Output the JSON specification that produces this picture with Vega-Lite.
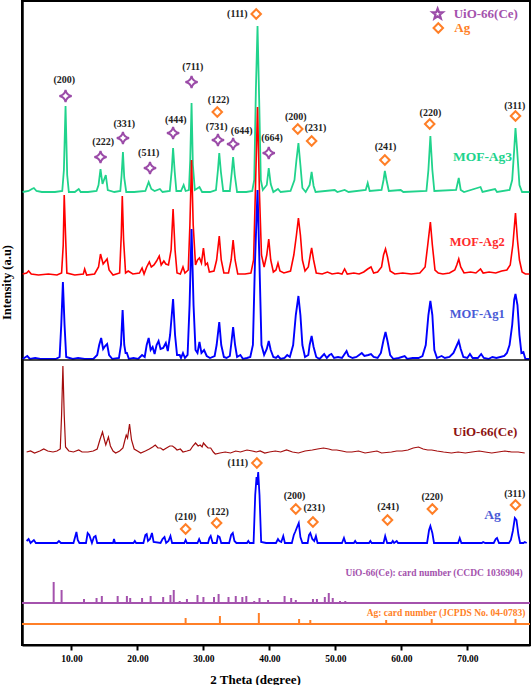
{
"$schema":"https://vega.github.io/schema/vega-lite/v6.json",
"width":508,"height":644,
"autosize":{"type":"none"},
"padding":{"left":22,"top":1,"right":2,"bottom":40},
"background":"white",
"config":{"view":{"stroke":"black","strokeWidth":2},"font":"Liberation Serif"},
"datasets":{
"ag3":[{"theta":2.6,"I":453},{"theta":3.5,"I":454},{"theta":4.0,"I":456},{"theta":4.3,"I":457},{"theta":4.7,"I":454},{"theta":5.5,"I":453},{"theta":6.5,"I":453},{"theta":7.5,"I":453},{"theta":8.6,"I":454},{"theta":8.85,"I":475},{"theta":9.1,"I":539},{"theta":9.35,"I":470},{"theta":9.6,"I":453},{"theta":10.5,"I":453},{"theta":11.1,"I":456},{"theta":11.4,"I":453},{"theta":12.5,"I":453},{"theta":13.8,"I":454},{"theta":14.1,"I":460},{"theta":14.4,"I":476},{"theta":14.7,"I":461},{"theta":15.2,"I":470},{"theta":15.5,"I":455},{"theta":16.5,"I":453},{"theta":17.4,"I":454},{"theta":17.6,"I":470},{"theta":17.8,"I":493},{"theta":18.0,"I":467},{"theta":18.3,"I":453},{"theta":19.5,"I":453},{"theta":21.2,"I":454},{"theta":21.7,"I":463},{"theta":22.1,"I":456},{"theta":22.6,"I":454},{"theta":23.4,"I":456},{"theta":23.8,"I":453},{"theta":24.9,"I":454},{"theta":25.2,"I":475},{"theta":25.4,"I":497},{"theta":25.65,"I":473},{"theta":25.9,"I":454},{"theta":26.6,"I":454},{"theta":27.0,"I":460},{"theta":27.3,"I":454},{"theta":27.8,"I":455},{"theta":28.0,"I":485},{"theta":28.2,"I":542},{"theta":28.4,"I":480},{"theta":28.7,"I":455},{"theta":29.4,"I":458},{"theta":29.8,"I":453},{"theta":31.0,"I":453},{"theta":31.9,"I":455},{"theta":32.2,"I":475},{"theta":32.4,"I":492},{"theta":32.65,"I":473},{"theta":33.0,"I":454},{"theta":34.0,"I":454},{"theta":34.3,"I":473},{"theta":34.5,"I":488},{"theta":34.75,"I":470},{"theta":35.1,"I":453},{"theta":36.5,"I":453},{"theta":37.4,"I":454},{"theta":37.7,"I":465},{"theta":37.95,"I":555},{"theta":38.2,"I":619},{"theta":38.45,"I":545},{"theta":38.7,"I":465},{"theta":39.0,"I":455},{"theta":39.6,"I":460},{"theta":39.9,"I":477},{"theta":40.2,"I":461},{"theta":40.6,"I":453},{"theta":41.3,"I":456},{"theta":41.7,"I":453},{"theta":43.2,"I":454},{"theta":43.8,"I":465},{"theta":44.1,"I":485},{"theta":44.4,"I":502},{"theta":44.7,"I":480},{"theta":45.0,"I":457},{"theta":45.5,"I":453},{"theta":46.1,"I":460},{"theta":46.4,"I":473},{"theta":46.7,"I":459},{"theta":47.0,"I":453},{"theta":49.9,"I":455},{"theta":50.3,"I":453},{"theta":51.4,"I":455},{"theta":52.0,"I":453},{"theta":54.6,"I":455},{"theta":54.9,"I":462},{"theta":55.2,"I":454},{"theta":57.0,"I":455},{"theta":57.3,"I":465},{"theta":57.5,"I":474},{"theta":57.75,"I":465},{"theta":58.1,"I":454},{"theta":59.9,"I":455},{"theta":60.3,"I":453},{"theta":63.8,"I":454},{"theta":64.1,"I":475},{"theta":64.4,"I":509},{"theta":64.7,"I":475},{"theta":65.0,"I":454},{"theta":68.3,"I":455},{"theta":68.7,"I":467},{"theta":69.0,"I":455},{"theta":69.5,"I":453},{"theta":72.0,"I":458},{"theta":72.3,"I":453},{"theta":74.2,"I":456},{"theta":74.5,"I":453},{"theta":76.4,"I":455},{"theta":76.8,"I":465},{"theta":77.1,"I":495},{"theta":77.3,"I":517},{"theta":77.55,"I":495},{"theta":77.9,"I":460},{"theta":78.3,"I":453},{"theta":79.4,"I":453}],
"ag2":[{"theta":2.6,"I":371},{"theta":3.2,"I":372},{"theta":3.5,"I":374},{"theta":3.9,"I":371},{"theta":5.0,"I":370},{"theta":6.5,"I":371},{"theta":7.8,"I":370},{"theta":8.5,"I":372},{"theta":8.75,"I":400},{"theta":8.9,"I":450},{"theta":9.1,"I":410},{"theta":9.3,"I":372},{"theta":10.5,"I":370},{"theta":11.8,"I":371},{"theta":12.0,"I":376},{"theta":12.3,"I":370},{"theta":13.5,"I":371},{"theta":14.1,"I":378},{"theta":14.4,"I":391},{"theta":14.8,"I":381},{"theta":15.4,"I":386},{"theta":15.7,"I":375},{"theta":16.3,"I":370},{"theta":17.3,"I":372},{"theta":17.55,"I":410},{"theta":17.7,"I":449},{"theta":17.9,"I":405},{"theta":18.2,"I":372},{"theta":18.6,"I":374},{"theta":19.3,"I":371},{"theta":20.3,"I":372},{"theta":20.7,"I":377},{"theta":21.0,"I":371},{"theta":21.4,"I":378},{"theta":21.8,"I":383},{"theta":22.1,"I":378},{"theta":22.5,"I":380},{"theta":22.9,"I":384},{"theta":23.3,"I":389},{"theta":23.6,"I":380},{"theta":24.0,"I":384},{"theta":24.3,"I":381},{"theta":24.7,"I":380},{"theta":25.1,"I":395},{"theta":25.4,"I":436},{"theta":25.7,"I":395},{"theta":26.0,"I":372},{"theta":26.5,"I":371},{"theta":26.9,"I":378},{"theta":27.2,"I":372},{"theta":27.7,"I":375},{"theta":27.95,"I":420},{"theta":28.2,"I":485},{"theta":28.45,"I":420},{"theta":28.8,"I":380},{"theta":29.1,"I":385},{"theta":29.4,"I":387},{"theta":29.7,"I":382},{"theta":30.0,"I":397},{"theta":30.3,"I":380},{"theta":30.6,"I":382},{"theta":30.9,"I":373},{"theta":31.6,"I":374},{"theta":32.0,"I":385},{"theta":32.4,"I":409},{"theta":32.7,"I":385},{"theta":33.1,"I":372},{"theta":33.8,"I":372},{"theta":34.2,"I":385},{"theta":34.5,"I":405},{"theta":34.8,"I":385},{"theta":35.2,"I":371},{"theta":36.3,"I":371},{"theta":37.2,"I":372},{"theta":37.6,"I":385},{"theta":37.9,"I":460},{"theta":38.2,"I":538},{"theta":38.5,"I":450},{"theta":38.8,"I":390},{"theta":39.2,"I":378},{"theta":39.6,"I":390},{"theta":39.9,"I":406},{"theta":40.2,"I":385},{"theta":40.6,"I":373},{"theta":41.0,"I":375},{"theta":41.3,"I":382},{"theta":41.6,"I":374},{"theta":42.2,"I":372},{"theta":43.2,"I":374},{"theta":43.7,"I":390},{"theta":44.1,"I":410},{"theta":44.4,"I":427},{"theta":44.7,"I":410},{"theta":45.0,"I":385},{"theta":45.4,"I":374},{"theta":45.9,"I":378},{"theta":46.2,"I":390},{"theta":46.4,"I":397},{"theta":46.7,"I":385},{"theta":47.1,"I":372},{"theta":48.0,"I":371},{"theta":48.8,"I":373},{"theta":49.5,"I":371},{"theta":50.4,"I":372},{"theta":51.0,"I":371},{"theta":51.4,"I":376},{"theta":51.8,"I":371},{"theta":52.8,"I":372},{"theta":53.6,"I":371},{"theta":54.3,"I":373},{"theta":54.9,"I":376},{"theta":55.4,"I":378},{"theta":55.8,"I":372},{"theta":56.4,"I":373},{"theta":57.0,"I":378},{"theta":57.3,"I":390},{"theta":57.6,"I":396},{"theta":57.9,"I":388},{"theta":58.3,"I":374},{"theta":59.0,"I":371},{"theta":60.2,"I":372},{"theta":61.5,"I":371},{"theta":62.8,"I":372},{"theta":63.6,"I":378},{"theta":64.0,"I":400},{"theta":64.4,"I":423},{"theta":64.7,"I":400},{"theta":65.1,"I":375},{"theta":65.6,"I":372},{"theta":66.3,"I":371},{"theta":67.3,"I":372},{"theta":68.1,"I":375},{"theta":68.4,"I":380},{"theta":68.7,"I":386},{"theta":69.0,"I":378},{"theta":69.5,"I":372},{"theta":70.5,"I":373},{"theta":71.3,"I":372},{"theta":72.0,"I":376},{"theta":72.4,"I":372},{"theta":73.3,"I":373},{"theta":74.3,"I":372},{"theta":75.2,"I":374},{"theta":76.0,"I":375},{"theta":76.5,"I":380},{"theta":76.9,"I":400},{"theta":77.3,"I":432},{"theta":77.6,"I":405},{"theta":77.9,"I":385},{"theta":78.3,"I":373},{"theta":78.8,"I":371},{"theta":79.4,"I":371}],
"ag1":[{"theta":2.6,"I":286},{"theta":3.3,"I":289},{"theta":3.7,"I":286},{"theta":4.5,"I":287},{"theta":5.3,"I":286},{"theta":6.5,"I":286},{"theta":7.6,"I":286},{"theta":8.2,"I":288},{"theta":8.45,"I":320},{"theta":8.7,"I":363},{"theta":8.95,"I":320},{"theta":9.2,"I":288},{"theta":10.2,"I":286},{"theta":11.0,"I":287},{"theta":12.0,"I":286},{"theta":13.3,"I":286},{"theta":13.9,"I":290},{"theta":14.2,"I":300},{"theta":14.5,"I":307},{"theta":14.8,"I":296},{"theta":15.1,"I":299},{"theta":15.4,"I":301},{"theta":15.7,"I":290},{"theta":16.2,"I":286},{"theta":17.2,"I":287},{"theta":17.5,"I":300},{"theta":17.75,"I":335},{"theta":18.0,"I":300},{"theta":18.2,"I":292},{"theta":18.4,"I":292},{"theta":18.7,"I":286},{"theta":19.4,"I":287},{"theta":20.1,"I":286},{"theta":20.7,"I":290},{"theta":21.1,"I":288},{"theta":21.4,"I":300},{"theta":21.7,"I":307},{"theta":22.0,"I":295},{"theta":22.3,"I":298},{"theta":22.6,"I":291},{"theta":22.9,"I":300},{"theta":23.2,"I":304},{"theta":23.5,"I":296},{"theta":23.9,"I":297},{"theta":24.3,"I":302},{"theta":24.6,"I":294},{"theta":24.95,"I":310},{"theta":25.4,"I":346},{"theta":25.7,"I":310},{"theta":26.0,"I":290},{"theta":26.4,"I":290},{"theta":26.6,"I":287},{"theta":26.9,"I":292},{"theta":27.2,"I":287},{"theta":27.6,"I":290},{"theta":27.9,"I":340},{"theta":28.2,"I":416},{"theta":28.5,"I":340},{"theta":28.8,"I":295},{"theta":29.1,"I":292},{"theta":29.4,"I":303},{"theta":29.7,"I":292},{"theta":30.1,"I":295},{"theta":30.5,"I":289},{"theta":31.0,"I":287},{"theta":31.7,"I":289},{"theta":32.0,"I":300},{"theta":32.4,"I":323},{"theta":32.7,"I":300},{"theta":33.1,"I":288},{"theta":33.5,"I":287},{"theta":34.0,"I":289},{"theta":34.2,"I":300},{"theta":34.5,"I":318},{"theta":34.8,"I":300},{"theta":35.1,"I":288},{"theta":35.6,"I":290},{"theta":36.0,"I":286},{"theta":36.6,"I":287},{"theta":37.1,"I":288},{"theta":37.5,"I":300},{"theta":37.8,"I":380},{"theta":38.2,"I":455},{"theta":38.5,"I":380},{"theta":38.8,"I":300},{"theta":39.2,"I":290},{"theta":39.6,"I":296},{"theta":39.9,"I":304},{"theta":40.2,"I":295},{"theta":40.6,"I":288},{"theta":41.0,"I":287},{"theta":41.3,"I":289},{"theta":41.7,"I":286},{"theta":42.3,"I":287},{"theta":42.7,"I":290},{"theta":43.1,"I":288},{"theta":43.6,"I":300},{"theta":44.0,"I":330},{"theta":44.4,"I":349},{"theta":44.7,"I":330},{"theta":45.0,"I":300},{"theta":45.4,"I":288},{"theta":45.9,"I":290},{"theta":46.1,"I":300},{"theta":46.4,"I":309},{"theta":46.7,"I":298},{"theta":47.1,"I":288},{"theta":47.6,"I":286},{"theta":48.3,"I":291},{"theta":48.7,"I":287},{"theta":49.1,"I":290},{"theta":49.4,"I":291},{"theta":49.8,"I":287},{"theta":50.4,"I":288},{"theta":51.0,"I":287},{"theta":51.3,"I":290},{"theta":51.7,"I":294},{"theta":52.0,"I":289},{"theta":52.6,"I":287},{"theta":53.2,"I":288},{"theta":53.6,"I":290},{"theta":54.0,"I":292},{"theta":54.4,"I":289},{"theta":55.0,"I":290},{"theta":55.4,"I":291},{"theta":55.8,"I":288},{"theta":56.4,"I":287},{"theta":56.9,"I":292},{"theta":57.3,"I":305},{"theta":57.6,"I":313},{"theta":57.9,"I":304},{"theta":58.3,"I":290},{"theta":58.8,"I":286},{"theta":59.6,"I":287},{"theta":60.5,"I":289},{"theta":60.9,"I":286},{"theta":61.7,"I":287},{"theta":62.6,"I":287},{"theta":63.2,"I":289},{"theta":63.7,"I":300},{"theta":64.1,"I":330},{"theta":64.4,"I":344},{"theta":64.7,"I":330},{"theta":65.0,"I":295},{"theta":65.4,"I":287},{"theta":66.1,"I":289},{"theta":66.6,"I":287},{"theta":67.3,"I":288},{"theta":67.9,"I":292},{"theta":68.3,"I":298},{"theta":68.7,"I":304},{"theta":69.0,"I":296},{"theta":69.4,"I":288},{"theta":70.0,"I":287},{"theta":70.4,"I":291},{"theta":70.8,"I":287},{"theta":71.6,"I":287},{"theta":72.1,"I":291},{"theta":72.5,"I":287},{"theta":73.2,"I":286},{"theta":73.8,"I":288},{"theta":74.4,"I":287},{"theta":75.0,"I":288},{"theta":75.6,"I":289},{"theta":76.0,"I":292},{"theta":76.4,"I":300},{"theta":76.8,"I":320},{"theta":77.1,"I":345},{"theta":77.3,"I":351},{"theta":77.6,"I":340},{"theta":77.9,"I":310},{"theta":78.2,"I":292},{"theta":78.5,"I":293},{"theta":78.8,"I":286},{"theta":79.4,"I":286}],
"uio":[{"theta":3.2,"I":193},{"theta":3.8,"I":194},{"theta":4.4,"I":192},{"theta":5.2,"I":194},{"theta":5.8,"I":196},{"theta":6.4,"I":194},{"theta":7.2,"I":193},{"theta":7.8,"I":194},{"theta":8.3,"I":196},{"theta":8.5,"I":230},{"theta":8.7,"I":279},{"theta":8.9,"I":230},{"theta":9.1,"I":198},{"theta":9.6,"I":194},{"theta":10.3,"I":193},{"theta":11.1,"I":195},{"theta":11.6,"I":193},{"theta":12.5,"I":193},{"theta":13.3,"I":194},{"theta":13.9,"I":196},{"theta":14.3,"I":205},{"theta":14.7,"I":213},{"theta":15.0,"I":205},{"theta":15.2,"I":200},{"theta":15.6,"I":208},{"theta":15.9,"I":199},{"theta":16.3,"I":194},{"theta":16.7,"I":192},{"theta":17.3,"I":194},{"theta":17.8,"I":197},{"theta":18.1,"I":205},{"theta":18.3,"I":210},{"theta":18.5,"I":207},{"theta":18.8,"I":221},{"theta":19.1,"I":205},{"theta":19.5,"I":196},{"theta":20.0,"I":194},{"theta":20.5,"I":192},{"theta":21.2,"I":194},{"theta":21.8,"I":196},{"theta":22.3,"I":198},{"theta":22.7,"I":200},{"theta":23.1,"I":197},{"theta":23.5,"I":197},{"theta":23.9,"I":195},{"theta":24.4,"I":197},{"theta":24.9,"I":199},{"theta":25.3,"I":199},{"theta":25.7,"I":197},{"theta":26.0,"I":195},{"theta":26.5,"I":196},{"theta":26.9,"I":193},{"theta":27.5,"I":194},{"theta":28.0,"I":195},{"theta":28.4,"I":199},{"theta":28.8,"I":202},{"theta":29.2,"I":199},{"theta":29.5,"I":200},{"theta":29.8,"I":198},{"theta":30.0,"I":202},{"theta":30.4,"I":199},{"theta":30.7,"I":197},{"theta":31.1,"I":197},{"theta":31.5,"I":193},{"theta":31.8,"I":191},{"theta":32.5,"I":192},{"theta":33.3,"I":193},{"theta":34.1,"I":192},{"theta":34.9,"I":194},{"theta":35.6,"I":193},{"theta":36.6,"I":195},{"theta":37.4,"I":194},{"theta":38.0,"I":193},{"theta":38.6,"I":194},{"theta":39.3,"I":192},{"theta":40.0,"I":193},{"theta":40.9,"I":194},{"theta":41.7,"I":193},{"theta":42.6,"I":195},{"theta":43.5,"I":193},{"theta":44.4,"I":192},{"theta":45.4,"I":194},{"theta":46.5,"I":195},{"theta":47.3,"I":196},{"theta":48.2,"I":197},{"theta":49.0,"I":196},{"theta":49.5,"I":195},{"theta":50.2,"I":195},{"theta":51.0,"I":194},{"theta":51.7,"I":193},{"theta":52.5,"I":193},{"theta":53.5,"I":194},{"theta":54.5,"I":192},{"theta":55.4,"I":193},{"theta":56.3,"I":194},{"theta":57.0,"I":192},{"theta":58.5,"I":193},{"theta":59.3,"I":194},{"theta":60.1,"I":194},{"theta":61.0,"I":195},{"theta":61.8,"I":197},{"theta":62.6,"I":198},{"theta":63.3,"I":196},{"theta":64.0,"I":195},{"theta":64.6,"I":195},{"theta":65.4,"I":194},{"theta":66.4,"I":193},{"theta":67.6,"I":192},{"theta":68.6,"I":193},{"theta":69.7,"I":192},{"theta":70.7,"I":193},{"theta":71.8,"I":194},{"theta":72.7,"I":193},{"theta":73.7,"I":192},{"theta":74.7,"I":193},{"theta":75.7,"I":194},{"theta":76.7,"I":193},{"theta":77.7,"I":193},{"theta":78.7,"I":192}],
"ag":[{"theta":3.2,"I":104},{"theta":3.5,"I":106},{"theta":3.8,"I":102},{"theta":4.3,"I":105},{"theta":4.6,"I":102},{"theta":5.5,"I":102},{"theta":6.8,"I":102},{"theta":7.8,"I":102},{"theta":8.1,"I":104},{"theta":8.4,"I":102},{"theta":10.3,"I":102},{"theta":10.55,"I":108},{"theta":10.75,"I":113},{"theta":10.95,"I":105},{"theta":11.2,"I":102},{"theta":12.2,"I":102},{"theta":12.45,"I":112},{"theta":12.7,"I":110},{"theta":13.1,"I":102},{"theta":13.4,"I":108},{"theta":13.65,"I":109},{"theta":13.9,"I":102},{"theta":15.5,"I":102},{"theta":16.3,"I":102},{"theta":16.45,"I":106},{"theta":16.6,"I":102},{"theta":19.4,"I":102},{"theta":19.6,"I":104},{"theta":19.8,"I":102},{"theta":20.9,"I":102},{"theta":21.2,"I":110},{"theta":21.4,"I":111},{"theta":21.6,"I":104},{"theta":21.9,"I":106},{"theta":22.2,"I":112},{"theta":22.45,"I":103},{"theta":23.5,"I":102},{"theta":23.8,"I":106},{"theta":24.1,"I":108},{"theta":24.35,"I":102},{"theta":24.7,"I":104},{"theta":25.0,"I":109},{"theta":25.25,"I":102},{"theta":27.1,"I":102},{"theta":27.3,"I":105},{"theta":27.5,"I":102},{"theta":29.1,"I":102},{"theta":29.35,"I":106},{"theta":29.6,"I":102},{"theta":30.7,"I":102},{"theta":30.9,"I":107},{"theta":31.1,"I":109},{"theta":31.4,"I":102},{"theta":32.0,"I":102},{"theta":32.2,"I":109},{"theta":32.45,"I":108},{"theta":32.7,"I":102},{"theta":33.9,"I":102},{"theta":34.2,"I":110},{"theta":34.45,"I":112},{"theta":34.7,"I":104},{"theta":35.0,"I":102},{"theta":36.6,"I":102},{"theta":36.8,"I":104},{"theta":37.0,"I":102},{"theta":37.6,"I":102},{"theta":37.85,"I":150},{"theta":38.05,"I":168},{"theta":38.15,"I":160},{"theta":38.3,"I":173},{"theta":38.5,"I":150},{"theta":38.75,"I":103},{"theta":39.5,"I":102},{"theta":41.0,"I":102},{"theta":41.3,"I":106},{"theta":41.5,"I":104},{"theta":41.8,"I":103},{"theta":42.1,"I":109},{"theta":42.35,"I":102},{"theta":43.4,"I":102},{"theta":43.7,"I":110},{"theta":43.9,"I":113},{"theta":44.2,"I":118},{"theta":44.45,"I":122},{"theta":44.7,"I":108},{"theta":45.0,"I":102},{"theta":45.8,"I":102},{"theta":46.0,"I":110},{"theta":46.2,"I":112},{"theta":46.5,"I":106},{"theta":46.8,"I":104},{"theta":47.05,"I":109},{"theta":47.3,"I":102},{"theta":51.0,"I":102},{"theta":51.3,"I":107},{"theta":51.55,"I":102},{"theta":52.8,"I":102},{"theta":53.0,"I":104},{"theta":53.2,"I":102},{"theta":55.1,"I":102},{"theta":55.3,"I":104},{"theta":55.5,"I":102},{"theta":57.3,"I":102},{"theta":57.55,"I":109},{"theta":57.85,"I":102},{"theta":58.5,"I":102},{"theta":58.7,"I":104},{"theta":58.9,"I":102},{"theta":59.3,"I":104},{"theta":59.5,"I":102},{"theta":63.9,"I":102},{"theta":64.2,"I":115},{"theta":64.4,"I":119},{"theta":64.7,"I":112},{"theta":64.95,"I":102},{"theta":68.6,"I":102},{"theta":68.85,"I":107},{"theta":69.1,"I":102},{"theta":72.2,"I":102},{"theta":72.4,"I":103},{"theta":72.7,"I":102},{"theta":74.0,"I":102},{"theta":74.3,"I":106},{"theta":74.5,"I":107},{"theta":74.8,"I":102},{"theta":76.3,"I":102},{"theta":76.6,"I":105},{"theta":76.9,"I":114},{"theta":77.2,"I":127},{"theta":77.45,"I":125},{"theta":77.75,"I":110},{"theta":78.0,"I":102},{"theta":78.5,"I":102},{"theta":78.7,"I":103},{"theta":79.0,"I":102}],
"uio_card":[{"theta":7.3,"I":63},{"theta":8.5,"I":55},{"theta":11.9,"I":46},{"theta":13.8,"I":47},{"theta":14.6,"I":49},{"theta":17.0,"I":49},{"theta":18.4,"I":49},{"theta":18.9,"I":47},{"theta":20.7,"I":47},{"theta":22.0,"I":49},{"theta":23.9,"I":48},{"theta":25.0,"I":50},{"theta":25.5,"I":55},{"theta":26.4,"I":44},{"theta":27.5,"I":46},{"theta":29.1,"I":50},{"theta":30.0,"I":48},{"theta":31.6,"I":48},{"theta":32.3,"I":51},{"theta":33.8,"I":48},{"theta":34.9,"I":49},{"theta":35.9,"I":48},{"theta":36.5,"I":49},{"theta":37.7,"I":44},{"theta":38.5,"I":47},{"theta":39.8,"I":45},{"theta":42.3,"I":49},{"theta":43.3,"I":47},{"theta":44.0,"I":45},{"theta":46.6,"I":46},{"theta":47.2,"I":46},{"theta":48.4,"I":48},{"theta":49.0,"I":52},{"theta":49.6,"I":47},{"theta":50.7,"I":44},{"theta":51.5,"I":44}],
"ag_card":[{"theta":27.3,"I":27},{"theta":32.5,"I":29},{"theta":38.4,"I":32},{"theta":44.5,"I":26},{"theta":46.2,"I":25},{"theta":57.7,"I":25},{"theta":64.6,"I":26},{"theta":77.3,"I":26}],
"baselines":[{"line":"divider","I":285},{"line":"UiO-66(Ce) card","I":42},{"line":"Ag card","I":21}],
"uio_marks":[{"theta":9.1,"I":549},{"theta":14.4,"I":488},{"theta":17.8,"I":507},{"theta":21.9,"I":477},{"theta":25.4,"I":512},{"theta":28.2,"I":563},{"theta":32.2,"I":505},{"theta":34.5,"I":501},{"theta":39.9,"I":492}],
"ag_marks":[{"theta":38.0,"I":631},{"theta":32.1,"I":533},{"theta":44.3,"I":516},{"theta":46.4,"I":504},{"theta":57.5,"I":485},{"theta":64.3,"I":521},{"theta":77.3,"I":529},{"theta":38.1,"I":182},{"theta":27.3,"I":116},{"theta":32.0,"I":122},{"theta":44.0,"I":136},{"theta":46.6,"I":123},{"theta":57.9,"I":125},{"theta":64.7,"I":136},{"theta":77.3,"I":140}],
"hkl":[{"theta":8.9,"I":565,"label":"(200)"},{"theta":14.8,"I":503,"label":"(222)"},{"theta":18.0,"I":521,"label":"(331)"},{"theta":21.7,"I":492,"label":"(511)"},{"theta":25.8,"I":525,"label":"(444)"},{"theta":28.4,"I":578,"label":"(711)"},{"theta":32.0,"I":518,"label":"(731)"},{"theta":35.8,"I":514,"label":"(644)"},{"theta":40.4,"I":507,"label":"(664)"},{"theta":35.15,"I":631,"label":"(111)"},{"theta":32.3,"I":545,"label":"(122)"},{"theta":44.0,"I":528,"label":"(200)"},{"theta":47.0,"I":517,"label":"(231)"},{"theta":57.6,"I":498,"label":"(241)"},{"theta":64.4,"I":532,"label":"(220)"},{"theta":77.2,"I":539,"label":"(311)"},{"theta":35.2,"I":182,"label":"(111)"},{"theta":27.3,"I":128,"label":"(210)"},{"theta":32.2,"I":133,"label":"(122)"},{"theta":43.8,"I":149,"label":"(200)"},{"theta":46.8,"I":137,"label":"(231)"},{"theta":58.0,"I":138,"label":"(241)"},{"theta":64.7,"I":148,"label":"(220)"},{"theta":77.2,"I":151,"label":"(311)"}],
"names":[{"theta":72.3,"I":488,"name":"MOF-Ag3"},{"theta":71.5,"I":403,"name":"MOF-Ag2"},{"theta":71.5,"I":331,"name":"MOF-Ag1"},{"theta":72.7,"I":213,"name":"UiO-66(Ce)"},{"theta":73.8,"I":130,"name":"Ag"}],
"cards":[{"theta":78.4,"I":72,"name":"UiO-66(Ce): card number (CCDC 1036904)","phase":"UiO-66(Ce)"},{"theta":78.8,"I":32,"name":"Ag: card number (JCPDS No. 04-0783)","phase":"Ag"}],
"legend":[{"theta":65.5,"I":631,"phase":"UiO-66(Ce)"},{"theta":65.6,"I":617,"phase":"Ag"}]
},
"layer":[
{"encoding":{
  "x":{"field":"theta","type":"quantitative","title":"2 Theta (degree)","scale":{"domain":[2.5,79.5],"nice":false,"zero":false},"axis":{"values":[10,20,30,40,50,60,70],"format":".2f","grid":false,"tickSize":5,"tickWidth":2,"tickColor":"black","domainColor":"black","domainWidth":2,"labelFont":"Liberation Serif","labelFontWeight":"bold","labelFontSize":9.5,"labelColor":"black","labelPadding":3,"titleFont":"Liberation Serif","titleFontWeight":"bold","titleFontSize":13,"titleColor":"black","titleX":233,"titleY":34,"titleBaseline":"middle"}},
  "y":{"field":"I","type":"quantitative","title":"Intensity (a.u)","scale":{"domain":[0,644],"nice":false,"zero":false},"axis":{"grid":false,"ticks":false,"labels":false,"domainColor":"black","domainWidth":2.5,"titleFont":"Liberation Serif","titleFontWeight":"bold","titleFontSize":12.5,"titleColor":"black","titleAngle":270,"titleX":-16,"titleY":281,"titleAlign":"center","titleBaseline":"middle"}}},
 "layer":[
  {"data":{"name":"ag3"},"mark":{"type":"line","color":"#20d38c","strokeWidth":1.8}},
  {"data":{"name":"ag2"},"mark":{"type":"line","color":"#ff0000","strokeWidth":1.6}},
  {"data":{"name":"ag1"},"mark":{"type":"line","color":"#0000ff","strokeWidth":1.9}},
  {"data":{"name":"uio"},"mark":{"type":"line","color":"#a30d0d","strokeWidth":1.2}},
  {"data":{"name":"ag"},"mark":{"type":"line","color":"#0000ff","strokeWidth":1.8}},
  {"data":{"name":"uio_card"},"mark":{"type":"rule","color":"#a452ad","strokeWidth":2},"encoding":{"y2":{"datum":42}}},
  {"data":{"name":"ag_card"},"mark":{"type":"rule","color":"#ff7f27","strokeWidth":2},"encoding":{"y2":{"datum":21}}},
  {"data":{"name":"uio_marks"},"mark":{"type":"point","shape":"M0,-1Q0.15,-0.15,1,0Q0.15,0.15,0,1Q-0.15,0.15,-1,0Q-0.15,-0.15,0,-1Z","size":150,"filled":true,"fill":"white","stroke":"#9b4ba8","strokeWidth":2,"opacity":1}},
  {"data":{"name":"ag_marks"},"mark":{"type":"point","shape":"diamond","size":90,"filled":true,"fill":"white","stroke":"#ff7f27","strokeWidth":2,"opacity":1}},
  {"data":{"name":"hkl"},"mark":{"type":"text","font":"Liberation Serif","fontWeight":"bold","fontSize":10,"color":"#222222","baseline":"middle","align":"center"},"encoding":{"text":{"field":"label"}}},
  {"data":{"name":"names"},"transform":[{"filter":"datum.name == 'MOF-Ag3'"}],"mark":{"type":"text","font":"Liberation Serif","fontWeight":"bold","fontSize":13.5,"baseline":"middle","align":"center","color":"#20d38c"},"encoding":{"text":{"field":"name"}}},
  {"data":{"name":"names"},"transform":[{"filter":"datum.name == 'MOF-Ag2'"}],"mark":{"type":"text","font":"Liberation Serif","fontWeight":"bold","fontSize":12.5,"baseline":"middle","align":"center","color":"#ff2a2a"},"encoding":{"text":{"field":"name"}}},
  {"data":{"name":"names"},"transform":[{"filter":"datum.name == 'MOF-Ag1'"}],"mark":{"type":"text","font":"Liberation Serif","fontWeight":"bold","fontSize":12.5,"baseline":"middle","align":"center","color":"#4a5ad6"},"encoding":{"text":{"field":"name"}}},
  {"data":{"name":"names"},"transform":[{"filter":"datum.name == 'UiO-66(Ce)'"}],"mark":{"type":"text","font":"Liberation Serif","fontWeight":"bold","fontSize":13,"baseline":"middle","align":"center","color":"#8e1212"},"encoding":{"text":{"field":"name"}}},
  {"data":{"name":"names"},"transform":[{"filter":"datum.name == 'Ag'"}],"mark":{"type":"text","font":"Liberation Serif","fontWeight":"bold","fontSize":13.5,"baseline":"middle","align":"center","color":"#4a5ad6"},"encoding":{"text":{"field":"name"}}},
  {"data":{"name":"cards"},"transform":[{"filter":"datum.phase == 'UiO-66(Ce)'"}],"mark":{"type":"text","font":"Liberation Serif","fontWeight":"bold","fontSize":9.5,"baseline":"middle","align":"right","color":"#a452ad"},"encoding":{"text":{"field":"name"}}},
  {"data":{"name":"cards"},"transform":[{"filter":"datum.phase == 'Ag'"}],"mark":{"type":"text","font":"Liberation Serif","fontWeight":"bold","fontSize":9.5,"baseline":"middle","align":"right","color":"#ff7f27"},"encoding":{"text":{"field":"name"}}},
  {"data":{"name":"legend"},"transform":[{"filter":"datum.phase == 'UiO-66(Ce)'"}],"mark":{"type":"point","shape":"M0,-1L0.247,-0.34L0.951,-0.309L0.399,0.13L0.588,0.809L0,0.42L-0.588,0.809L-0.399,0.13L-0.951,-0.309L-0.247,-0.34Z","size":120,"filled":true,"fill":"white","stroke":"#9b4ba8","strokeWidth":2.2,"opacity":1}},
  {"data":{"name":"legend"},"transform":[{"filter":"datum.phase == 'Ag'"}],"mark":{"type":"point","shape":"diamond","size":90,"filled":true,"fill":"white","stroke":"#ff7f27","strokeWidth":2,"opacity":1}},
  {"data":{"name":"legend"},"transform":[{"filter":"datum.phase == 'UiO-66(Ce)'"}],"mark":{"type":"text","font":"Liberation Serif","fontWeight":"bold","fontSize":13,"baseline":"middle","align":"left","dx":16,"color":"#a452ad"},"encoding":{"text":{"field":"phase"}}},
  {"data":{"name":"legend"},"transform":[{"filter":"datum.phase == 'Ag'"}],"mark":{"type":"text","font":"Liberation Serif","fontWeight":"bold","fontSize":13,"baseline":"middle","align":"left","dx":16,"color":"#ff7f27"},"encoding":{"text":{"field":"phase"}}}
 ]},
{"data":{"name":"baselines"},"transform":[{"filter":"datum.line == 'divider'"}],"mark":{"type":"rule","color":"#111111","strokeWidth":1.5},
 "encoding":{"y":{"field":"I","type":"quantitative","title":"Intensity (a.u)","scale":{"domain":[0,644],"nice":false,"zero":false},"axis":{"grid":false,"ticks":false,"labels":false,"domainColor":"black","domainWidth":2.5,"titleFont":"Liberation Serif","titleFontWeight":"bold","titleFontSize":12.5,"titleColor":"black","titleAngle":270,"titleX":-16,"titleY":281,"titleAlign":"center","titleBaseline":"middle"}}}},
{"data":{"name":"baselines"},"transform":[{"filter":"datum.line == 'UiO-66(Ce) card'"}],"mark":{"type":"rule","color":"#a452ad","strokeWidth":2},
 "encoding":{"y":{"field":"I","type":"quantitative","title":"Intensity (a.u)","scale":{"domain":[0,644],"nice":false,"zero":false},"axis":{"grid":false,"ticks":false,"labels":false,"domainColor":"black","domainWidth":2.5,"titleFont":"Liberation Serif","titleFontWeight":"bold","titleFontSize":12.5,"titleColor":"black","titleAngle":270,"titleX":-16,"titleY":281,"titleAlign":"center","titleBaseline":"middle"}}}},
{"data":{"name":"baselines"},"transform":[{"filter":"datum.line == 'Ag card'"}],"mark":{"type":"rule","color":"#ff7f27","strokeWidth":2},
 "encoding":{"y":{"field":"I","type":"quantitative","title":"Intensity (a.u)","scale":{"domain":[0,644],"nice":false,"zero":false},"axis":{"grid":false,"ticks":false,"labels":false,"domainColor":"black","domainWidth":2.5,"titleFont":"Liberation Serif","titleFontWeight":"bold","titleFontSize":12.5,"titleColor":"black","titleAngle":270,"titleX":-16,"titleY":281,"titleAlign":"center","titleBaseline":"middle"}}}}
]
}
